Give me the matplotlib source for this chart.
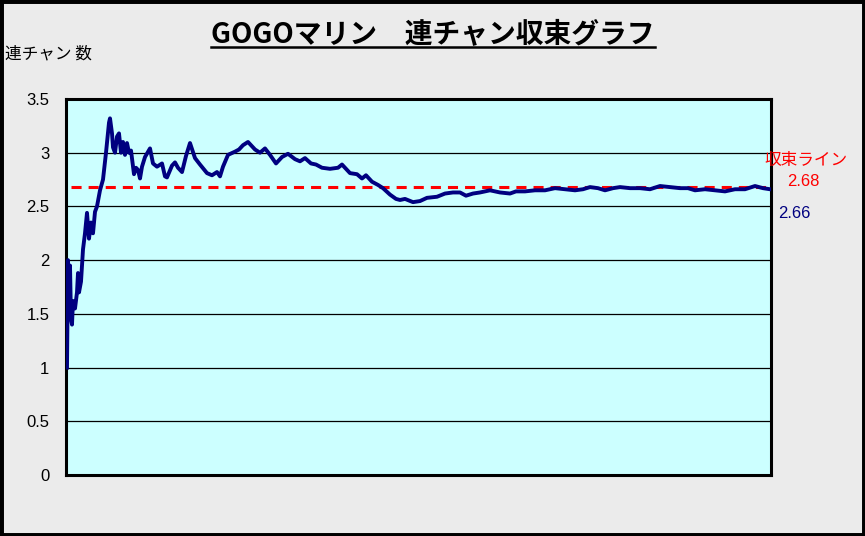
import matplotlib
matplotlib.use("Agg")
import matplotlib.pyplot as plt
from matplotlib.lines import Line2D
from matplotlib.patches import Rectangle

plt.rcParams['font.family'] = ['Noto Sans CJK JP', 'DejaVu Sans']

# data (x = position along the run, y = average chain count)
games = [1, 2, 3, 4, 5, 6, 7, 9, 11, 12, 13, 15, 17, 19, 21, 23, 25, 27, 29, 31,
         34, 37, 40, 43, 44, 46, 47, 49, 51, 53, 55, 57, 59, 61, 63, 65, 68, 70, 72, 74,
         76, 79, 84, 87, 91, 96, 99, 101, 106, 109, 112, 116, 120, 124, 129, 134, 141, 146, 151, 154,
         157, 162, 169, 173, 177, 182, 189, 194, 199, 204, 210, 216, 222, 229, 234, 239, 245, 250, 256, 264,
         272, 276, 284, 291, 296, 300, 306, 312, 317, 324, 330, 334, 339, 347, 354, 361, 371, 379, 387, 394,
         400, 407, 414, 424, 434, 444, 450, 459, 469, 479, 489, 499, 509, 517, 524, 532, 539, 547, 554, 564,
         574, 584, 594, 604, 614, 622, 629, 639, 649, 659, 669, 679, 689, 697, 704]
avg_chain = [1.0, 2.0, 1.55, 1.95, 1.45, 1.40, 1.62, 1.55, 1.70, 1.88, 1.70, 1.80, 2.10, 2.25, 2.44, 2.20, 2.35, 2.25, 2.45, 2.50,
             2.65, 2.75, 3.00, 3.28, 3.32, 3.18, 3.05, 3.00, 3.15, 3.18, 3.00, 3.10, 2.98, 3.09, 3.00, 3.02, 2.80, 2.86, 2.84, 2.76,
             2.87, 2.96, 3.04, 2.90, 2.87, 2.90, 2.78, 2.77, 2.88, 2.91, 2.86, 2.82, 2.97, 3.09, 2.95, 2.89, 2.81, 2.79, 2.82, 2.78,
             2.87, 2.98, 3.01, 3.03, 3.07, 3.10, 3.03, 3.00, 3.04, 2.98, 2.90, 2.96, 2.99, 2.94, 2.92, 2.95, 2.90, 2.89, 2.86, 2.85,
             2.86, 2.89, 2.81, 2.80, 2.76, 2.79, 2.73, 2.70, 2.67, 2.61, 2.57, 2.56, 2.57, 2.54, 2.55, 2.58, 2.59, 2.62, 2.63, 2.63,
             2.60, 2.62, 2.63, 2.65, 2.63, 2.62, 2.64, 2.64, 2.65, 2.65, 2.67, 2.66, 2.65, 2.66, 2.68, 2.67, 2.65, 2.67, 2.68, 2.67,
             2.67, 2.66, 2.69, 2.68, 2.67, 2.67, 2.65, 2.66, 2.65, 2.64, 2.66, 2.66, 2.69, 2.67, 2.66]
converge = 2.68
last_value = 2.66
line_x = [5, 704]
yticks = [0, 0.5, 1, 1.5, 2, 2.5, 3, 3.5]

W, H = 865, 536
fig = plt.figure(figsize=(W / 100, H / 100), dpi=100, facecolor='#ebebeb')
ax = fig.add_axes([66 / W, 1 - 475 / H, 705 / W, 376 / H])
ax.set_facecolor('#ccffff')

for v in yticks[1:-1]:
    ax.axhline(v, color='black', lw=0.9, zorder=1)

ax.plot(line_x, [converge, converge], color='#ff0000', lw=2.2,
        dashes=(3.3, 2.3), zorder=2)
ax.plot(games, avg_chain, color='#000080', lw=2.8, zorder=3)

ax.set_xlim(0, 705)
ax.set_ylim(0, 3.5)
ax.set_xticks([])
ax.set_yticks(yticks)
ax.set_yticklabels(['0', '0.5', '1', '1.5', '2', '2.5', '3', '3.5'])
ax.tick_params(axis='y', length=0, pad=12, labelsize=12)
for lab in ax.get_yticklabels():
    lab.set_fontfamily(['Liberation Sans', 'DejaVu Sans'])
for s in ax.spines.values():
    s.set_linewidth(2.2)
    s.set_color('black')

# texts
title = fig.text(433 / W, 1 - 34 / H, 'GOGOマリン　連チャン収束グラフ', ha='center',
                 va='center', fontsize=20, fontweight='bold')
fig.text(5 / W, 1 - 54 / H, '連チャン 数', ha='left', va='center', fontsize=12)
fig.text(806 / W, 1 - 160 / H, '収束ライン', ha='center', va='center',
         fontsize=12, color='#ff0000')
fig.text(803 / W, 1 - 181 / H, f'{converge:.2f}', ha='center', va='center',
         fontsize=12, color='#ff0000', family=['Liberation Sans', 'DejaVu Sans'])
fig.text(794 / W, 1 - 213 / H, f'{last_value:.2f}', ha='center', va='center',
         fontsize=12, color='#000080', family=['Liberation Sans', 'DejaVu Sans'])

# underline for the title
fig.canvas.draw()
bb = title.get_window_extent()
fig.add_artist(Line2D([bb.x0 / W, bb.x1 / W], [1 - 47 / H, 1 - 47 / H],
                      color='black', lw=1.8))

# outer frame
fig.add_artist(Rectangle((0, 0), 1, 1, transform=fig.transFigure, fill=False,
                         edgecolor='black', lw=5))

fig.savefig('out.png', dpi=100, facecolor=fig.get_facecolor())
